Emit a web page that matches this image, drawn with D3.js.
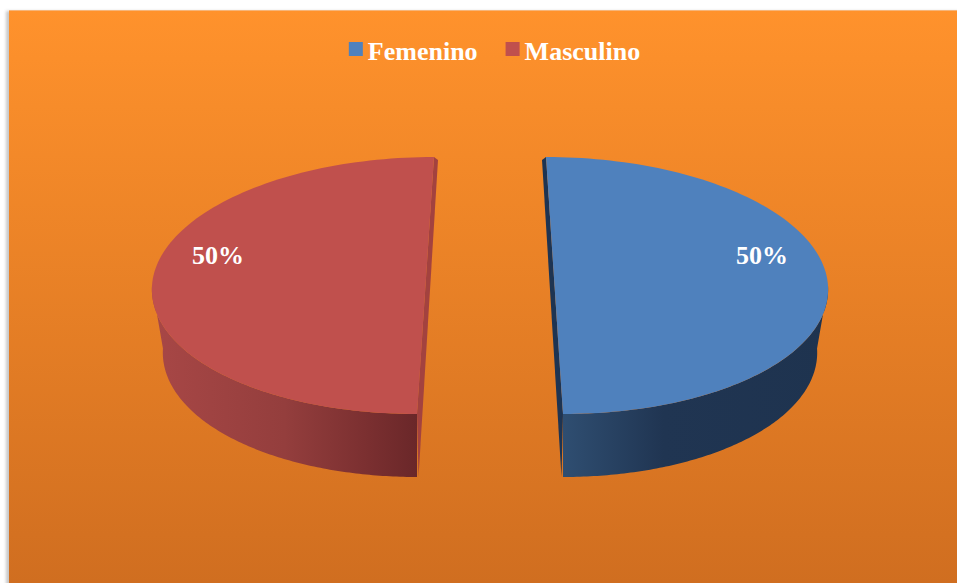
<meta charset="utf-8">
<script src="https://d3js.org/d3.v7.min.js"></script>
<style>
body { margin: 0; background: #fff; }
text { font-family: "Liberation Serif", "Times New Roman", serif; font-weight: bold; fill: #fff; }
</style>
<div id="chart"></div>
<script>
// data
var categories = ["Femenino", "Masculino"];
var values = [50, 50];
var labels = ["50%", "50%"];

var W = 957, H = 583;
var svg = d3.select("#chart").append("svg")
    .attr("width", W)
    .attr("height", H);

var defs = svg.append("defs");

// background gradient
var bg = defs.append("linearGradient").attr("id", "bg")
    .attr("x1", 0).attr("y1", 0).attr("x2", 0).attr("y2", 1);
bg.append("stop").attr("offset", "0%").attr("stop-color", "#FF922C");
bg.append("stop").attr("offset", "100%").attr("stop-color", "#D06E20");

defs.append("filter").attr("id", "shadow")
    .append("feGaussianBlur").attr("stdDeviation", 1.5);

svg.append("rect")
    .attr("x", 6).attr("y", 11).attr("width", W).attr("height", H)
    .attr("fill", "#c8c8c8").attr("filter", "url(#shadow)");
svg.append("rect")
    .attr("x", 9).attr("y", 10).attr("width", W - 9).attr("height", H - 10)
    .attr("fill", "url(#bg)");
svg.append("line")
    .attr("x1", 9).attr("x2", W).attr("y1", 10.5).attr("y2", 10.5)
    .attr("stroke", "#F6B57A").attr("stroke-width", 1);

// colours
var topColor = d3.scaleOrdinal().domain(categories).range(["#4F81BD", "#C0504D"]);
var cutColor = d3.scaleOrdinal().domain(categories).range(["#1E3452", "#A3423F"]);
var sideStops = {
    "Femenino": [["0%", "#2F4E71"], ["38%", "#203552"], ["100%", "#1E334F"]],
    "Masculino": [["0%", "#A84746"], ["50%", "#943E3D"], ["82%", "#7A2F30"], ["100%", "#6A2729"]]
};

// 3d pie geometry
var cx = 490, cy = 285.5, rx = 273.5, ry = 128.5, depth = 63;
var bottomScale = 0.96;   // perspective: lower rim a bit narrower
var explode = d3.scaleLinear().domain([0, 1]).range([0, 64.5]);
var skewK = 0.066;

var pie = d3.pie().sort(null).value(function(d) { return d.value; });
var data = categories.map(function(c, i) { return {cat: c, value: values[i], label: labels[i]}; });
var arcs = pie(data);

function geom(d) {
    var mid = (d.startAngle + d.endAngle) / 2;
    var ox = cx + explode(1) * Math.sin(mid);
    var oy = cy - explode(1) * Math.cos(mid) * (ry / rx);
    var k = skewK * Math.sin(mid);
    return {
        mid: mid,
        pt: function(a, dz) {
            var s = dz ? bottomScale : 1;
            var y = oy - ry * Math.cos(a);
            var x = ox + s * rx * Math.sin(a) + k * (y - oy);
            return [x, y + (dz || 0)];
        },
        ox: ox, oy: oy
    };
}

function sampleAngles(a0, a1) {
    var n = 120, out = [];
    for (var i = 0; i <= n; i++) out.push(a0 + (a1 - a0) * i / n);
    return out;
}

var line = d3.line();

arcs.forEach(function(d) {
    var g = geom(d);
    var c = d.data.cat;
    var gid = "side" + categories.indexOf(c);

    // side face (front half only)
    var a0 = Math.max(d.startAngle, Math.PI / 2);
    var a1 = Math.min(d.endAngle, 3 * Math.PI / 2);
    var angs = sampleAngles(a0, a1);
    var topArc = angs.map(function(a) { return g.pt(a, 0); });
    var botArc = angs.slice().reverse().map(function(a) { return g.pt(a, depth); });
    var xs = topArc.map(function(p) { return p[0]; });

    var lg = defs.append("linearGradient").attr("id", gid)
        .attr("gradientUnits", "userSpaceOnUse")
        .attr("x1", d3.min(xs)).attr("x2", d3.max(xs))
        .attr("y1", 0).attr("y2", 0);
    sideStops[c].forEach(function(s) {
        lg.append("stop").attr("offset", s[0]).attr("stop-color", s[1]);
    });

    svg.append("path")
        .attr("d", line(topArc.concat(botArc)) + "Z")
        .attr("fill", "url(#" + gid + ")");

    // cut face
    var side = Math.sin(g.mid) > 0 ? -1 : 1;
    var T = g.pt(0, 0), B = g.pt(Math.PI, 0);
    var cut = [T, B, [B[0] + side * 1.5, B[1] + depth], [T[0] + side * 4, T[1] + 3]];
    svg.append("path")
        .attr("d", line(cut) + "Z")
        .attr("fill", cutColor(c));

    // top face
    var topPts = sampleAngles(d.startAngle, d.endAngle).map(function(a) { return g.pt(a, 0); });
    svg.append("path")
        .attr("d", line(topPts) + "Z")
        .attr("fill", topColor(c));

    // label
    var la = g.mid + (g.mid < Math.PI ? -0.3 : 0.3);
    var lx = g.ox + 0.794 * rx * Math.sin(la);
    var ly = g.oy - 0.794 * ry * Math.cos(la);
    svg.append("text")
        .attr("x", lx).attr("y", ly)
        .attr("text-anchor", "middle")
        .attr("dy", "0.35em")
        .attr("font-size", "26px")
        .text(d.data.label);
});

// legend
var legend = svg.append("g");
var lx = 0;
categories.forEach(function(c, i) {
    var item = legend.append("g").attr("transform", "translate(" + lx + ",0)");
    item.append("rect")
        .attr("x", 0).attr("y", -18).attr("width", 14).attr("height", 14)
        .attr("fill", topColor(c));
    var t = item.append("text")
        .attr("x", 19).attr("y", 0)
        .attr("font-size", "26px")
        .text(c);
    lx += 19 + t.node().getComputedTextLength() + 28;
});
var lw = legend.node().getBBox().width;
legend.attr("transform", "translate(" + (494.5 - lw / 2) + ",60)");
</script>
